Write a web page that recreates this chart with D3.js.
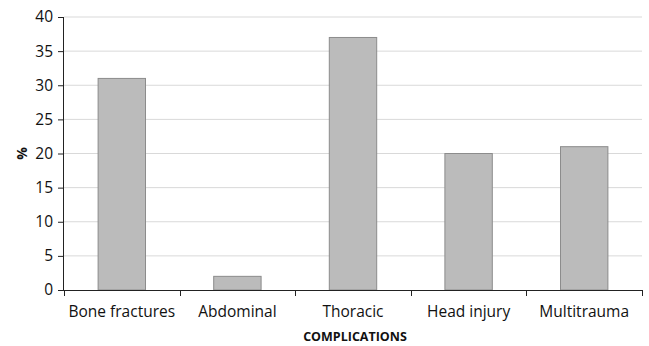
<!DOCTYPE html>
<html><head><meta charset="utf-8">
<script src="https://cdn.jsdelivr.net/npm/d3@7"></script>
<style>body{margin:0;background:#fff}svg{display:block}</style>
</head><body>
<svg id="c" width="649" height="346"></svg>
<script>
const categories = ["Bone fractures","Abdominal","Thoracic","Head injury","Multitrauma"];
const values = [31, 2, 37, 20, 21];
const yTicks = [0,5,10,15,20,25,30,35,40];
const xTitle = "COMPLICATIONS";
const yTitle = "%";

const svg = d3.select("#c");
const m = {l:64, r:7, t:17, b:56};
const W = 649, H = 346;
const x = d3.scaleBand().domain(categories).range([m.l, W-m.r]).paddingInner(0.59).paddingOuter(0.295);
const xb = d3.scaleBand().domain(categories).range([m.l, W-m.r]);
const y = d3.scaleLinear().domain([0,40]).range([H-m.b, m.t]);
const font = "'Open Sans', sans-serif";

// gridlines
svg.append("g").selectAll("line").data(yTicks.filter(d=>d>0)).join("line")
  .attr("x1", m.l).attr("x2", W-m.r)
  .attr("y1", d=>y(d)).attr("y2", d=>y(d))
  .attr("stroke", "#d9d9d9").attr("stroke-width", 1);

// bars
svg.append("g").selectAll("rect").data(values).join("rect")
  .attr("x", (d,i)=>x(categories[i]))
  .attr("y", d=>y(d))
  .attr("width", x.bandwidth())
  .attr("height", d=>y(0)-y(d))
  .attr("fill", "#bbbbbb")
  .attr("stroke", "#8c8c8c").attr("stroke-width", 1);

// y axis
const ya = svg.append("g").attr("transform", `translate(${m.l},0)`)
  .call(d3.axisLeft(y).tickValues(yTicks).tickSize(6).tickPadding(5));
ya.select(".domain").attr("stroke", "#222").attr("d", `M-0.5,${y(0)}V${y(40)}`);
ya.selectAll(".tick line").attr("stroke", "#222");
ya.selectAll("text").attr("font-family", font).attr("font-size", 15.5).attr("fill", "#111");

// x axis
const xa = svg.append("g").attr("transform", `translate(0,${y(0)})`)
  .call(d3.axisBottom(xb).tickSize(0).tickPadding(16));
xa.select(".domain").attr("stroke", "#222");
xa.selectAll("text").attr("font-family", font).attr("font-size", 15.5).attr("fill", "#111");
// boundary ticks
const bounds = categories.map(c=>xb(c)).concat([W-m.r]);
xa.append("g").selectAll("line").data(bounds).join("line")
  .attr("x1", d=>Math.round(d)+0.5).attr("x2", d=>Math.round(d)+0.5)
  .attr("y1", 0).attr("y2", 6).attr("stroke", "#222");

// titles
svg.append("text").attr("x", 355).attr("y", 341)
  .attr("text-anchor","middle").attr("font-family", font).attr("font-weight","bold")
  .attr("font-size", 12.5).attr("fill","#111").text(xTitle);
svg.append("text").attr("transform", `translate(27,${(y(0)+y(40))/2}) rotate(-90)`)
  .attr("text-anchor","middle").attr("font-family", font).attr("font-weight","bold")
  .attr("font-size", 14).attr("fill","#111").text(yTitle);
</script>
</body></html>
